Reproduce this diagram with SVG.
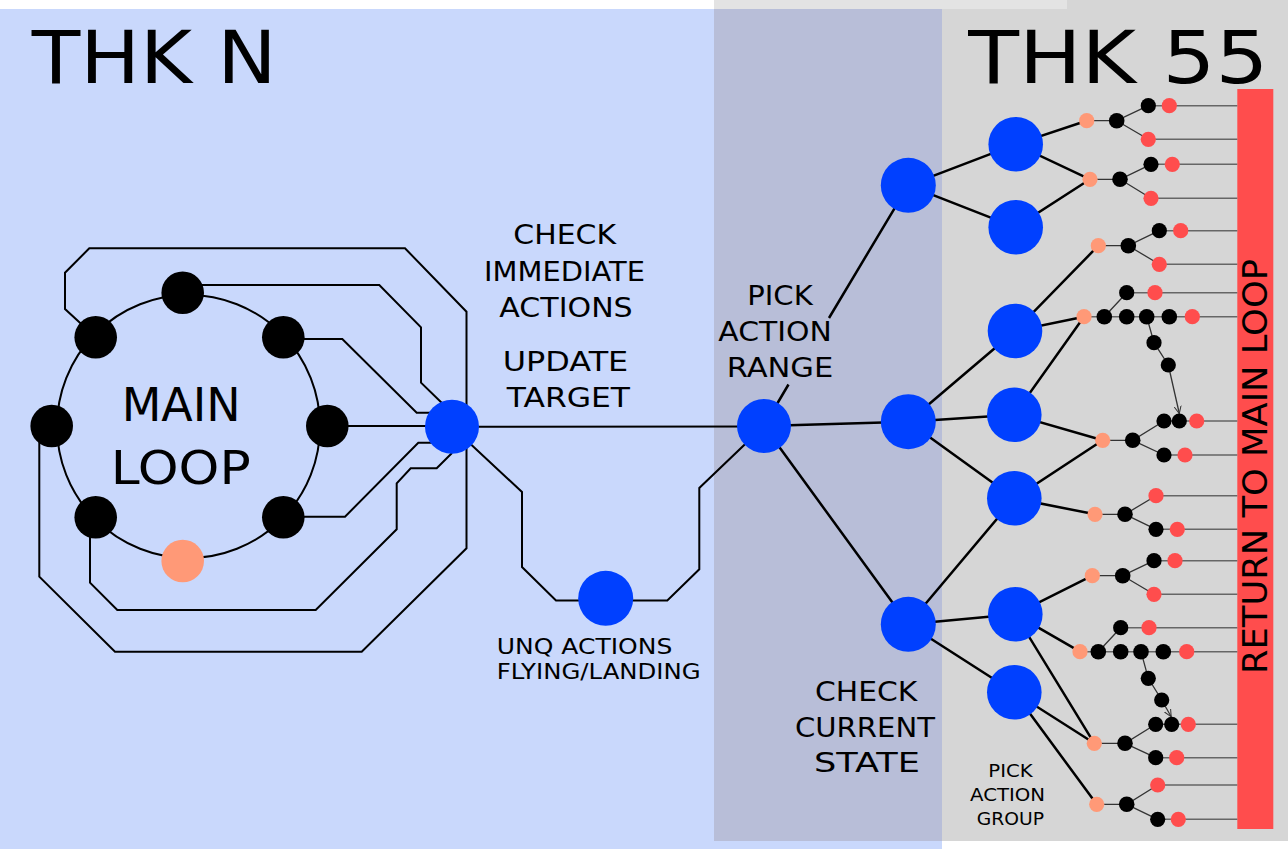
<svg xmlns="http://www.w3.org/2000/svg" width="1288" height="849" viewBox="0 0 1288 849">
<defs>
<style>
.ln{fill:none;stroke:#000;stroke-width:2;stroke-linejoin:miter}
.tl{fill:none;stroke:#000;stroke-width:2.5}
.th{fill:none;stroke:#333;stroke-width:1.3}
.bar{fill:none;stroke:#666;stroke-width:1.6}
.blue{fill:#0040ff}
.blk{fill:#000}
.sal{fill:#ff9977}
.red{fill:#ff4d4d}
.t{font-family:"DejaVu Sans","Liberation Sans",sans-serif;fill:#000}
</style>
<marker id="arr" viewBox="0 0 8 8" refX="7.5" refY="4" markerWidth="8" markerHeight="8" markerUnits="userSpaceOnUse" orient="auto">
<path d="M0,0.5 L7.5,4 L0,7.5" fill="none" stroke="#333" stroke-width="1"/>
</marker>
</defs>
<g id="background">
<rect x="0" y="9" width="942" height="840" fill="#c9d8fc"/>
<rect x="714" y="0" width="574" height="841" fill="#d6d6d6"/>
<rect x="714" y="0" width="353" height="9" fill="#e3e3e3"/>
<rect x="714" y="9" width="228" height="832" fill="#b8bed8"/>
<rect x="1237.3" y="89" width="36" height="740" fill="#ff4d4d"/>
</g>
<g id="connectors">
<circle cx="188.5" cy="426.5" r="131.5" class="ln"/>
<path class="ln" d="M95.7,337.3 L65,309 L65,272.7 L89.3,248.3 L405,248.3 L466.5,311.7 L466.5,548.3 L361.7,651.7 L115,651.7 L39.3,576.7 L39.3,432"/>
<path class="ln" d="M183,285 L379.3,285 L421,327.3 L421,382.7 L445,406"/>
<path class="ln" d="M283.3,339 L342.3,339 L416.7,412.7 L432,412.7"/>
<path class="ln" d="M327.3,426 L452,426"/>
<path class="ln" d="M283.3,516.7 L345,516.7 L418.3,442.7 L434,442.7"/>
<path class="ln" d="M90,517 L90,582.7 L117.3,610 L315.7,610 L396.7,529.3 L396.7,483.3 L410.7,468.3 L436.7,468.3 L452,453"/>
<path class="ln" d="M452,426.7 L764,426.5"/>
<path class="ln" d="M452,426.7 L522,492 L522,567 L556,600.5 L667.3,600.5 L699.3,569.3 L699.3,488 L764,426"/>
<path class="tl" d="M764,426 L788.5,384.5 M829,318 L908.3,185.3"/>
<path class="tl" d="M764,426 L908.3,421.7 M764,426 L908.3,624.3"/>
<path class="tl" d="M908.3,185.3 L1015.7,144.3 M908.3,185.3 L1015.7,227.3"/>
<path class="tl" d="M908.3,421.7 L1015,331 M908.3,421.7 L1014.3,414.7 M908.3,421.7 L1014.3,498.3"/>
<path class="tl" d="M908.3,624.3 L1014.3,498.3 M908.3,624.3 L1015.3,614.3 M908.3,624.3 L1014.3,692.3"/>
<path class="tl" d="M1015.7,144.3 L1086.7,120.7 M1015.7,144.3 L1090,179.3 M1015.7,227.3 L1090,179.3"/>
<path class="tl" d="M1015,331 L1098.3,245.7 M1015,331 L1084,316.7 M1014.3,414.7 L1084,316.7"/>
<path class="tl" d="M1014.3,414.7 L1102.7,440.3 M1014.3,498.3 L1102.7,440.3 M1014.3,498.3 L1095,514.3"/>
<path class="tl" d="M1015.3,614.3 L1092.3,575.7 M1015.3,614.3 L1080,651.7 M1015.3,614.3 L1094.3,743.3"/>
<path class="tl" d="M1014.3,692.3 L1094.3,743.3 M1014.3,692.3 L1096.7,804.3"/>
<path class="th" d="M1086.7,120.7 L1116.7,120.7 L1148.3,105.7 M1116.7,120.7 L1148.3,139.3"/>
<path class="th" d="M1090,179.3 L1120,179.3 L1151,164.3 M1120,179.3 L1151,198.3"/>
<path class="th" d="M1098.3,245.7 L1128.3,245.7 L1159.3,230.7 M1128.3,245.7 L1159.3,264.3"/>
<path class="th" d="M1104.3,316.7 L1126.7,292.7 M1146.7,316.7 L1154,342.7 L1168.3,365"/>
<path class="th" d="M1168.3,365 L1179.3,413.5" marker-end="url(#arr)"/>
<path class="th" d="M1102.7,440.3 L1132.7,440.3 L1164,421 M1132.7,440.3 L1164,455"/>
<path class="th" d="M1095,514.3 L1125,514.3 L1156,495.7 M1125,514.3 L1156,529.3"/>
<path class="th" d="M1092.3,575.7 L1122.7,575.7 L1154,560.7 M1122.7,575.7 L1154,594.3"/>
<path class="th" d="M1098.3,651.7 L1120.7,627.7 M1141,651.7 L1148.3,678.3 L1161.7,700"/>
<path class="th" d="M1161.7,700 L1171.2,716.8" marker-end="url(#arr)"/>
<path class="th" d="M1094.3,743.3 L1125,743.3 L1155.7,724.3 M1125,743.3 L1155.7,757.7"/>
<path class="th" d="M1096.7,804.3 L1126.7,804.3 L1157.7,785 M1126.7,804.3 L1157.7,819.3"/>
<path class="bar" d="M1148.3,105.7 H1237.3 M1148.3,139.3 H1237.3 M1151,164.3 H1237.3 M1151,198.3 H1237.3 M1159.3,230.7 H1237.3 M1159.3,264.3 H1237.3 M1126.7,292.7 H1237.3 M1084,316.7 H1237.3 M1164,421 H1237.3 M1164,455 H1237.3 M1156,495.7 H1237.3 M1156,529.3 H1237.3 M1154,560.7 H1237.3 M1154,594.3 H1237.3 M1120.7,627.7 H1237.3 M1080,651.7 H1237.3 M1155.7,724.3 H1237.3 M1155.7,757.7 H1237.3 M1157.7,785 H1237.3 M1157.7,819.3 H1237.3"/>
</g>
<g id="main-loop">
<g id="ml-top"><circle class="blk" cx="182.7" cy="292.7" r="21.3"/></g>
<g id="ml-top-left"><circle class="blk" cx="95.7" cy="337.3" r="21.3"/></g>
<g id="ml-top-right"><circle class="blk" cx="283.3" cy="337.3" r="21.3"/></g>
<g id="ml-left"><circle class="blk" cx="51.7" cy="426" r="21.3"/></g>
<g id="ml-right"><circle class="blk" cx="327.3" cy="426" r="21.3"/></g>
<g id="ml-bottom-left"><circle class="blk" cx="95.7" cy="517.3" r="21.3"/></g>
<g id="ml-bottom-right"><circle class="blk" cx="283.3" cy="517.3" r="21.3"/></g>
<g id="ml-bottom"><circle class="sal" cx="182.7" cy="561" r="21.3"/></g>
<text class="t" x="121.7" y="420.7" font-size="46" textLength="119" lengthAdjust="spacingAndGlyphs">MAIN</text>
<text class="t" x="110.7" y="484" font-size="47" textLength="140" lengthAdjust="spacingAndGlyphs">LOOP</text>
</g>
<g id="hub"><circle class="blue" cx="452" cy="426.7" r="27"/></g>
<g id="unq"><circle class="blue" cx="605.7" cy="598.3" r="27.5"/></g>
<g id="range"><circle class="blue" cx="764" cy="426" r="27"/></g>
<g id="l1-a"><circle class="blue" cx="908.3" cy="185.3" r="27.5"/></g>
<g id="l1-b"><circle class="blue" cx="908.3" cy="421.7" r="27.5"/></g>
<g id="l1-c"><circle class="blue" cx="908.3" cy="624.3" r="27.5"/></g>
<g id="l2-a1"><circle class="blue" cx="1015.7" cy="144.3" r="27.3"/></g>
<g id="l2-a2"><circle class="blue" cx="1015.7" cy="227.3" r="27.3"/></g>
<g id="l2-b1"><circle class="blue" cx="1015" cy="331" r="27.3"/></g>
<g id="l2-b2"><circle class="blue" cx="1014.3" cy="414.7" r="27.3"/></g>
<g id="l2-b3"><circle class="blue" cx="1014.3" cy="498.3" r="27.3"/></g>
<g id="l2-c1"><circle class="blue" cx="1015.3" cy="614.3" r="27.3"/></g>
<g id="l2-c2"><circle class="blue" cx="1014.3" cy="692.3" r="27.3"/></g>
<g id="grp1">
<circle class="sal" cx="1086.7" cy="120.7" r="7.6"/><circle class="blk" cx="1116.7" cy="120.7" r="7.8"/>
<circle class="blk" cx="1148.3" cy="105.7" r="7.6"/><circle class="red" cx="1169.3" cy="105.7" r="7.6"/><circle class="red" cx="1148.3" cy="139.3" r="7.6"/>
</g>
<g id="grp2">
<circle class="sal" cx="1090" cy="179.3" r="7.6"/><circle class="blk" cx="1120" cy="179.3" r="7.8"/>
<circle class="blk" cx="1151" cy="164.3" r="7.6"/><circle class="red" cx="1172.3" cy="164.3" r="7.6"/><circle class="red" cx="1151" cy="198.3" r="7.6"/>
</g>
<g id="grp3">
<circle class="sal" cx="1098.3" cy="245.7" r="7.6"/><circle class="blk" cx="1128.3" cy="245.7" r="7.8"/>
<circle class="blk" cx="1159.3" cy="230.7" r="7.6"/><circle class="red" cx="1180.7" cy="230.7" r="7.6"/><circle class="red" cx="1159.3" cy="264.3" r="7.6"/>
</g>
<g id="grp4">
<circle class="sal" cx="1084" cy="316.7" r="7.6"/><circle class="blk" cx="1104.3" cy="316.7" r="7.8"/><circle class="blk" cx="1126.7" cy="316.7" r="7.8"/><circle class="blk" cx="1146.7" cy="316.7" r="7.8"/><circle class="blk" cx="1169.3" cy="316.7" r="7.8"/><circle class="red" cx="1192.3" cy="316.7" r="7.6"/>
<circle class="blk" cx="1126.7" cy="292.7" r="7.6"/><circle class="red" cx="1155" cy="292.7" r="7.6"/>
<circle class="blk" cx="1154" cy="342.7" r="7.6"/><circle class="blk" cx="1168.3" cy="365" r="7.6"/>
</g>
<g id="grp5">
<circle class="sal" cx="1102.7" cy="440.3" r="7.6"/><circle class="blk" cx="1132.7" cy="440.3" r="7.8"/>
<circle class="blk" cx="1164" cy="421" r="7.6"/><circle class="blk" cx="1179.3" cy="421" r="7.6"/><circle class="red" cx="1196.7" cy="421" r="7.6"/>
<circle class="blk" cx="1164" cy="455" r="7.6"/><circle class="red" cx="1185" cy="455" r="7.6"/>
</g>
<g id="grp6">
<circle class="sal" cx="1095" cy="514.3" r="7.6"/><circle class="blk" cx="1125" cy="514.3" r="7.8"/>
<circle class="red" cx="1156" cy="495.7" r="7.6"/><circle class="blk" cx="1156" cy="529.3" r="7.6"/><circle class="red" cx="1177.3" cy="529.3" r="7.6"/>
</g>
<g id="grp7">
<circle class="sal" cx="1092.3" cy="575.7" r="7.6"/><circle class="blk" cx="1122.7" cy="575.7" r="7.8"/>
<circle class="blk" cx="1154" cy="560.7" r="7.6"/><circle class="red" cx="1175" cy="560.7" r="7.6"/><circle class="red" cx="1154" cy="594.3" r="7.6"/>
</g>
<g id="grp8">
<circle class="sal" cx="1080" cy="651.7" r="7.6"/><circle class="blk" cx="1098.3" cy="651.7" r="7.8"/><circle class="blk" cx="1120.7" cy="651.7" r="7.8"/><circle class="blk" cx="1141" cy="651.7" r="7.8"/><circle class="blk" cx="1163.3" cy="651.7" r="7.8"/><circle class="red" cx="1186.7" cy="651.7" r="7.6"/>
<circle class="blk" cx="1120.7" cy="627.7" r="7.6"/><circle class="red" cx="1149" cy="627.7" r="7.6"/>
<circle class="blk" cx="1148.3" cy="678.3" r="7.6"/><circle class="blk" cx="1161.7" cy="700" r="7.6"/>
</g>
<g id="grp9">
<circle class="sal" cx="1094.3" cy="743.3" r="7.6"/><circle class="blk" cx="1125" cy="743.3" r="7.8"/>
<circle class="blk" cx="1155.7" cy="724.3" r="7.6"/><circle class="blk" cx="1171.7" cy="724.3" r="7.6"/><circle class="red" cx="1188.3" cy="724.3" r="7.6"/>
<circle class="blk" cx="1155.7" cy="757.7" r="7.6"/><circle class="red" cx="1176.7" cy="757.7" r="7.6"/>
</g>
<g id="grp10">
<circle class="sal" cx="1096.7" cy="804.3" r="7.6"/><circle class="blk" cx="1126.7" cy="804.3" r="7.8"/>
<circle class="red" cx="1157.7" cy="785" r="7.6"/><circle class="blk" cx="1157.7" cy="819.3" r="7.6"/><circle class="red" cx="1178.3" cy="819.3" r="7.6"/>
</g>
<g id="labels">
<text class="t" x="31.7" y="82.7" font-size="73" textLength="245" lengthAdjust="spacingAndGlyphs">THK N</text>
<text class="t" x="968.3" y="82.7" font-size="73" textLength="300" lengthAdjust="spacingAndGlyphs">THK 55</text>
<text class="t" x="513.3" y="244.3" font-size="26" textLength="102.7" lengthAdjust="spacingAndGlyphs">CHECK</text>
<text class="t" x="484" y="280.7" font-size="26" textLength="161" lengthAdjust="spacingAndGlyphs">IMMEDIATE</text>
<text class="t" x="499.3" y="316.7" font-size="26" textLength="133.4" lengthAdjust="spacingAndGlyphs">ACTIONS</text>
<text class="t" x="502.7" y="370.7" font-size="26" textLength="125.6" lengthAdjust="spacingAndGlyphs">UPDATE</text>
<text class="t" x="506.7" y="406.7" font-size="26" textLength="123.3" lengthAdjust="spacingAndGlyphs">TARGET</text>
<text class="t" x="747.3" y="305" font-size="26" textLength="65.4" lengthAdjust="spacingAndGlyphs">PICK</text>
<text class="t" x="718.3" y="340.7" font-size="26" textLength="113.4" lengthAdjust="spacingAndGlyphs">ACTION</text>
<text class="t" x="726.7" y="376.7" font-size="26" textLength="106.6" lengthAdjust="spacingAndGlyphs">RANGE</text>
<text class="t" x="496.7" y="654.3" font-size="21" textLength="175.6" lengthAdjust="spacingAndGlyphs">UNQ ACTIONS</text>
<text class="t" x="496.7" y="679" font-size="21" textLength="204" lengthAdjust="spacingAndGlyphs">FLYING/LANDING</text>
<text class="t" x="815" y="700.7" font-size="26" textLength="102.3" lengthAdjust="spacingAndGlyphs">CHECK</text>
<text class="t" x="795" y="736.7" font-size="26" textLength="140" lengthAdjust="spacingAndGlyphs">CURRENT</text>
<text class="t" x="814" y="772.3" font-size="26" textLength="106" lengthAdjust="spacingAndGlyphs">STATE</text>
<text class="t" x="988.3" y="776.7" font-size="17.5" textLength="44.4" lengthAdjust="spacingAndGlyphs">PICK</text>
<text class="t" x="970" y="801" font-size="17.5" textLength="75" lengthAdjust="spacingAndGlyphs">ACTION</text>
<text class="t" x="976.7" y="825" font-size="17.5" textLength="67.3" lengthAdjust="spacingAndGlyphs">GROUP</text>
<text class="t" transform="translate(1267.3,674) rotate(-90)" x="0" y="0" font-size="33" textLength="415" lengthAdjust="spacingAndGlyphs">RETURN TO MAIN LOOP</text>
</g>
</svg>
